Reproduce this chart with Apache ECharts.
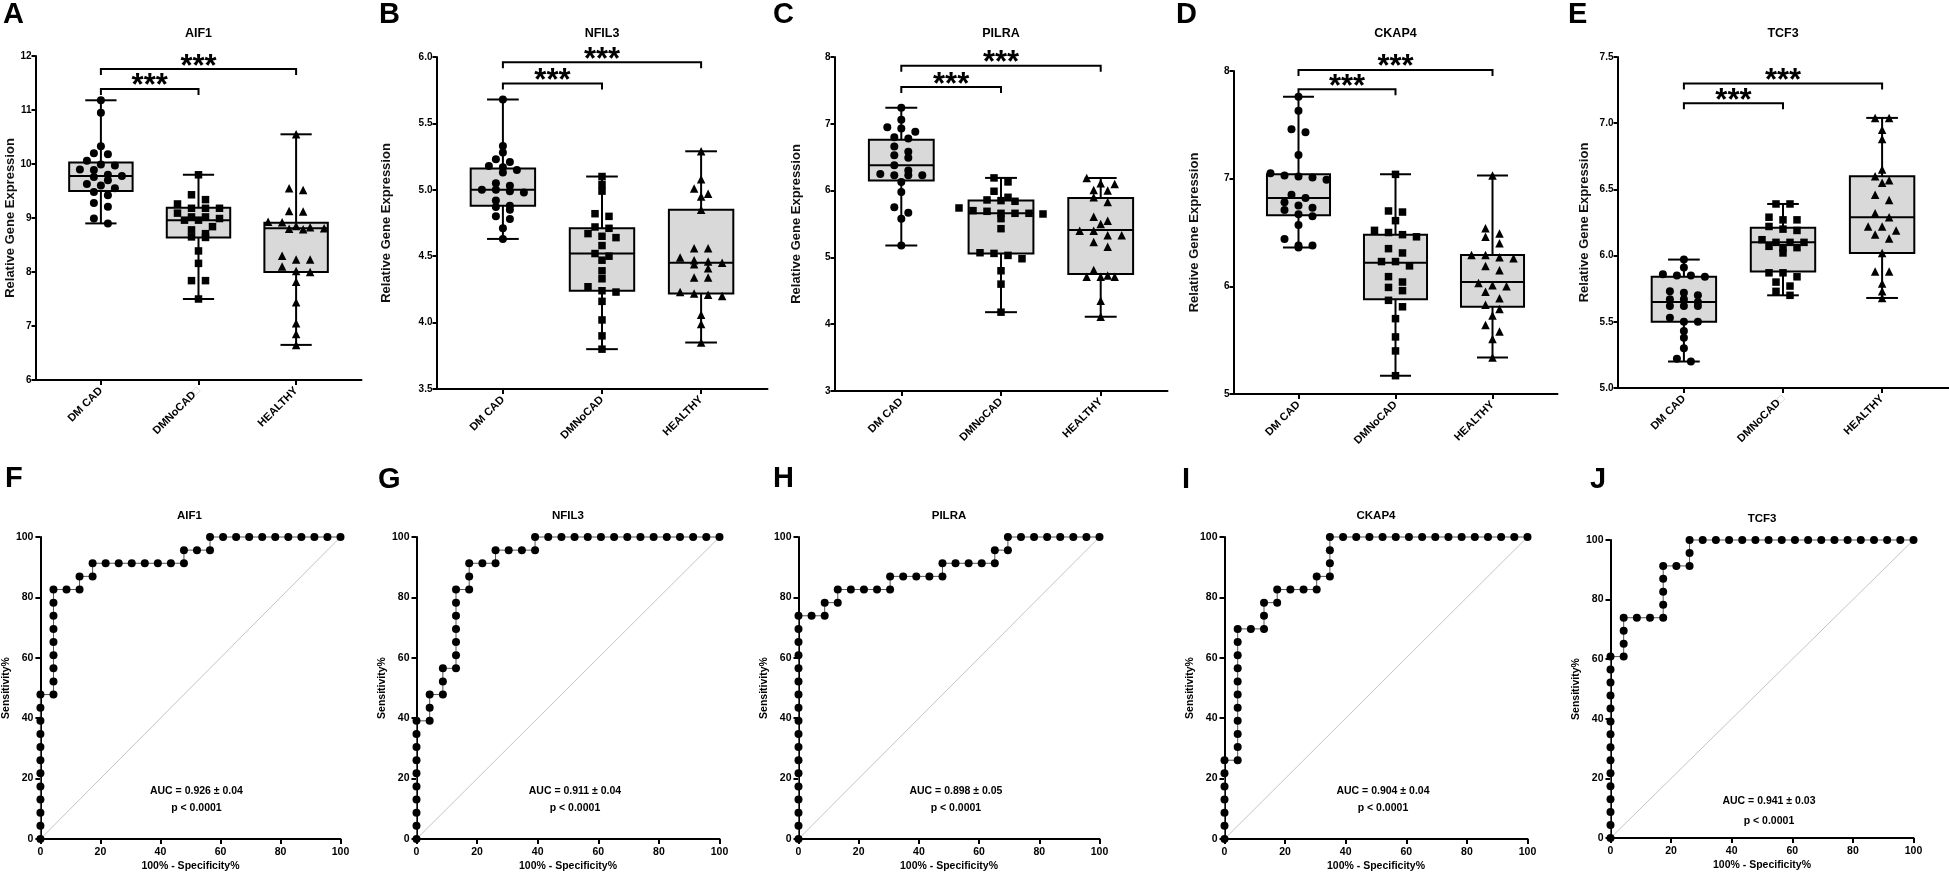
<!DOCTYPE html>
<html><head><meta charset="utf-8">
<script src="https://cdn.jsdelivr.net/npm/echarts@6.0.0/dist/echarts.min.js"></script>
<style>html,body{margin:0;padding:0;background:#fff;}#c{width:1949px;height:890px;}</style>
</head><body><div id="c"></div>
<script>
// ---------------- DATA ----------------
const AIF1_GROUPS = ['DM CAD', 'DMNoCAD\u25A1', 'HEALTHY'];
const NFIL3_GROUPS = ['DM CAD', 'DMNoCAD', 'HEALTHY'];
const PILRA_GROUPS = ['DM CAD', 'DMNoCAD', 'HEALTHY'];
const CKAP4_GROUPS = ['DM CAD', 'DMNoCAD', 'HEALTHY'];
const TCF3_GROUPS = ['DM CAD', 'DMNoCAD\u25A1', 'HEALTHY'];

const AIF1_DMCAD = [11.18,10.95,10.33,10.20,10.18,10.06,9.99,9.97,9.90,9.89,9.80,9.78,9.76,9.70,9.63,9.60,9.55,9.48,9.42,9.28,9.21,8.99,8.90];
const AIF1_DMNOCAD = [9.80,9.43,9.34,9.26,9.18,9.18,9.18,9.09,9.02,9.02,8.99,8.96,8.96,8.84,8.78,8.71,8.65,8.64,8.39,8.16,7.84,7.84,7.50];
const AIF1_HEALTHY = [10.55,9.55,9.52,9.13,9.12,8.93,8.92,8.85,8.83,8.81,8.80,8.79,8.30,8.23,8.23,8.10,8.02,8.00,7.82,7.44,7.05,6.85,6.65];
const AIF1_BOX = [[8.90,9.50,9.78,10.03,11.18],[7.50,8.64,8.96,9.19,9.80],[6.65,8.00,8.81,8.91,10.55]];
const AIF1_YTICKS = [6,7,8,9,10,11,12];
const AIF1_SIG = [[1,2,11.39,'***'],[1,3,11.76,'***']];

const NFIL3_DMCAD = [5.68,5.33,5.28,5.23,5.21,5.18,5.17,5.15,5.13,5.05,5.03,5.00,5.00,4.99,4.98,4.92,4.88,4.87,4.85,4.80,4.78,4.71,4.63];
const NFIL3_DMNOCAD = [5.10,5.04,4.99,4.82,4.80,4.72,4.71,4.67,4.65,4.64,4.58,4.52,4.50,4.47,4.39,4.33,4.27,4.24,4.23,4.16,4.02,3.90,3.80];
const NFIL3_HEALTHY = [5.29,5.08,5.01,4.97,4.95,4.85,4.56,4.56,4.49,4.47,4.46,4.45,4.44,4.41,4.34,4.34,4.23,4.22,4.21,4.20,4.06,3.99,3.85];
const NFIL3_BOX = [[4.63,4.88,5.00,5.16,5.68],[3.80,4.24,4.52,4.71,5.10],[3.85,4.22,4.45,4.85,5.29]];
const NFIL3_YTICKS = [3.5,4.0,4.5,5.0,5.5,6.0];
const NFIL3_SIG = [[1,2,5.80,'***'],[1,3,5.96,'***']];

const PILRA_DMCAD = [7.24,7.06,6.95,6.93,6.88,6.80,6.78,6.66,6.58,6.53,6.49,6.38,6.30,6.25,6.23,6.23,6.23,6.13,5.98,5.75,5.67,5.58,5.18];
const PILRA_DMNOCAD = [6.19,6.13,5.99,5.90,5.86,5.85,5.84,5.74,5.70,5.69,5.66,5.66,5.66,5.65,5.58,5.43,5.07,5.06,5.03,4.98,4.80,4.60,4.18];
const PILRA_HEALTHY = [6.19,6.11,6.10,6.01,6.00,5.90,5.83,5.61,5.55,5.50,5.40,5.40,5.33,5.33,5.23,5.16,4.81,4.73,4.71,4.71,4.71,4.35,4.11];
const PILRA_BOX = [[5.18,6.15,6.38,6.76,7.24],[4.18,5.06,5.66,5.85,6.19],[4.11,4.75,5.41,5.89,6.19]];
const PILRA_YTICKS = [3,4,5,6,7,8];
const PILRA_SIG = [[1,2,7.55,'***'],[1,3,7.87,'***']];

const CKAP4_DMCAD = [7.76,7.63,7.46,7.43,7.22,7.05,7.03,7.02,7.01,6.99,6.85,6.82,6.78,6.75,6.73,6.71,6.67,6.65,6.57,6.44,6.38,6.38,6.36];
const CKAP4_DMNOCAD = [7.04,6.70,6.69,6.61,6.52,6.50,6.48,6.46,6.35,6.31,6.23,6.23,6.19,6.09,6.04,5.99,5.96,5.87,5.81,5.70,5.53,5.40,5.17];
const CKAP4_HEALTHY = [7.03,6.54,6.49,6.46,6.40,6.29,6.29,6.27,6.26,6.19,6.15,6.03,6.01,6.00,5.95,5.89,5.83,5.79,5.73,5.64,5.58,5.51,5.34];
const CKAP4_BOX = [[6.36,6.66,6.82,7.04,7.76],[5.17,5.88,6.22,6.48,7.04],[5.34,5.81,6.04,6.29,7.03]];
const CKAP4_YTICKS = [5,6,7,8];
const CKAP4_SIG = [[1,2,7.83,'***'],[1,3,8.01,'***']];

const TCF3_DMCAD = [5.97,5.91,5.86,5.85,5.85,5.84,5.73,5.72,5.70,5.67,5.67,5.65,5.62,5.62,5.62,5.53,5.50,5.50,5.43,5.38,5.30,5.22,5.20];
const TCF3_DMNOCAD = [6.39,6.39,6.29,6.27,6.27,6.22,6.20,6.19,6.12,6.10,6.10,6.10,6.07,6.06,6.06,6.02,5.87,5.87,5.84,5.80,5.77,5.73,5.70];
const TCF3_HEALTHY = [7.04,7.04,6.95,6.88,6.65,6.60,6.57,6.55,6.46,6.42,6.32,6.29,6.22,6.22,6.19,6.16,6.13,6.02,5.88,5.88,5.79,5.73,5.68];
const TCF3_BOX = [[5.20,5.50,5.65,5.84,5.97],[5.70,5.88,6.10,6.21,6.39],[5.68,6.02,6.29,6.60,7.04]];
const TCF3_YTICKS = [5.0,5.5,6.0,6.5,7.0,7.5];
const TCF3_SIG = [[1,2,7.15,'***'],[1,3,7.30,'***']];

// ROC curves: [100% - Specificity%, Sensitivity%]
const ROC_AIF1 = [[0,0],[0,4.35],[0,8.70],[0,13.04],[0,17.39],[0,21.74],[0,26.09],[0,30.43],[0,34.78],[0,39.13],[0,43.48],[0,47.83],[4.35,47.83],[4.35,52.17],[4.35,56.52],[4.35,60.87],[4.35,65.22],[4.35,69.57],[4.35,73.91],[4.35,78.26],[4.35,82.61],[8.70,82.61],[13.04,82.61],[13.04,86.96],[17.39,86.96],[17.39,91.30],[21.74,91.30],[26.09,91.30],[30.43,91.30],[34.78,91.30],[39.13,91.30],[43.48,91.30],[47.83,91.30],[47.83,95.65],[52.17,95.65],[56.52,95.65],[56.52,100],[60.87,100],[65.22,100],[69.57,100],[73.91,100],[78.26,100],[82.61,100],[86.96,100],[91.30,100],[95.65,100],[100,100]];
const ROC_NFIL3 = [[0,0],[0,4.35],[0,8.70],[0,13.04],[0,17.39],[0,21.74],[0,26.09],[0,30.43],[0,34.78],[0,39.13],[4.35,39.13],[4.35,43.48],[4.35,47.83],[8.70,47.83],[8.70,52.17],[8.70,56.52],[13.04,56.52],[13.04,60.87],[13.04,65.22],[13.04,69.57],[13.04,73.91],[13.04,78.26],[13.04,82.61],[17.39,82.61],[17.39,86.96],[17.39,91.30],[21.74,91.30],[26.09,91.30],[26.09,95.65],[30.43,95.65],[34.78,95.65],[39.13,95.65],[39.13,100],[43.48,100],[47.83,100],[52.17,100],[56.52,100],[60.87,100],[65.22,100],[69.57,100],[73.91,100],[78.26,100],[82.61,100],[86.96,100],[91.30,100],[95.65,100],[100,100]];
const ROC_PILRA = [[0,0],[0,4.35],[0,8.70],[0,13.04],[0,17.39],[0,21.74],[0,26.09],[0,30.43],[0,34.78],[0,39.13],[0,43.48],[0,47.83],[0,52.17],[0,56.52],[0,60.87],[0,65.22],[0,69.57],[0,73.91],[4.35,73.91],[8.70,73.91],[8.70,78.26],[13.04,78.26],[13.04,82.61],[17.39,82.61],[21.74,82.61],[26.09,82.61],[30.43,82.61],[30.43,86.96],[34.78,86.96],[39.13,86.96],[43.48,86.96],[47.83,86.96],[47.83,91.30],[52.17,91.30],[56.52,91.30],[60.87,91.30],[65.22,91.30],[65.22,95.65],[69.57,95.65],[69.57,100],[73.91,100],[78.26,100],[82.61,100],[86.96,100],[91.30,100],[95.65,100],[100,100]];
const ROC_CKAP4 = [[0,0],[0,4.35],[0,8.70],[0,13.04],[0,17.39],[0,21.74],[0,26.09],[4.35,26.09],[4.35,30.43],[4.35,34.78],[4.35,39.13],[4.35,43.48],[4.35,47.83],[4.35,52.17],[4.35,56.52],[4.35,60.87],[4.35,65.22],[4.35,69.57],[8.70,69.57],[13.04,69.57],[13.04,73.91],[13.04,78.26],[17.39,78.26],[17.39,82.61],[21.74,82.61],[26.09,82.61],[30.43,82.61],[30.43,86.96],[34.78,86.96],[34.78,91.30],[34.78,95.65],[34.78,100],[39.13,100],[43.48,100],[47.83,100],[52.17,100],[56.52,100],[60.87,100],[65.22,100],[69.57,100],[73.91,100],[78.26,100],[82.61,100],[86.96,100],[91.30,100],[95.65,100],[100,100]];
const ROC_TCF3 = [[0,0],[0,4.35],[0,8.70],[0,13.04],[0,17.39],[0,21.74],[0,26.09],[0,30.43],[0,34.78],[0,39.13],[0,43.48],[0,47.83],[0,52.17],[0,56.52],[0,60.87],[4.35,60.87],[4.35,65.22],[4.35,69.57],[4.35,73.91],[8.70,73.91],[13.04,73.91],[17.39,73.91],[17.39,78.26],[17.39,82.61],[17.39,86.96],[17.39,91.30],[21.74,91.30],[26.09,91.30],[26.09,95.65],[26.09,100],[30.43,100],[34.78,100],[39.13,100],[43.48,100],[47.83,100],[52.17,100],[56.52,100],[60.87,100],[65.22,100],[69.57,100],[73.91,100],[78.26,100],[82.61,100],[86.96,100],[91.30,100],[95.65,100],[100,100]];
const ROC_TICKS = [0,20,40,60,80,100];
const ROC_DIAGONAL = [[0,0],[100,100]];
const AUC_TEXT = ['AUC = 0.926 \u00B1 0.04','AUC = 0.911 \u00B1 0.04','AUC = 0.898 \u00B1 0.05','AUC = 0.904 \u00B1 0.04','AUC = 0.941 \u00B1 0.03'];
const P_TEXT = ['p < 0.0001','p < 0.0001','p < 0.0001','p < 0.0001','p < 0.0001'];
const GENES = ['AIF1','NFIL3','PILRA','CKAP4','TCF3'];

// ---------------- LAYOUT ----------------
const FONT = '"Liberation Sans", Arial, Helvetica, sans-serif';
const XMIN = 0.33, XMAX = 3.67;
const BOX_W = 0.65, CAP_W = 0.32;
const SYMBOLS = ['circle','rect','triangle'];
const SYM_SIZE = [8, 7.5, 8.5];

const topPanels = [
  {gene:'AIF1', groups:AIF1_GROUPS, pts:[AIF1_DMCAD,AIF1_DMNOCAD,AIF1_HEALTHY], box:AIF1_BOX, ticks:AIF1_YTICKS, sig:AIF1_SIG, dec:0,
   left:35.5, top:56, width:326, height:324, nameGap:18, letter:'A', lx:3, ly:15},
  {gene:'NFIL3', groups:NFIL3_GROUPS, pts:[NFIL3_DMCAD,NFIL3_DMNOCAD,NFIL3_HEALTHY], box:NFIL3_BOX, ticks:NFIL3_YTICKS, sig:NFIL3_SIG, dec:1,
   left:436.5, top:57, width:331, height:332, nameGap:44, letter:'B', lx:379, ly:15},
  {gene:'PILRA', groups:PILRA_GROUPS, pts:[PILRA_DMCAD,PILRA_DMNOCAD,PILRA_HEALTHY], box:PILRA_BOX, ticks:PILRA_YTICKS, sig:PILRA_SIG, dec:0,
   left:834.5, top:57, width:333, height:334, nameGap:32, letter:'C', lx:773, ly:15},
  {gene:'CKAP4', groups:CKAP4_GROUPS, pts:[CKAP4_DMCAD,CKAP4_DMNOCAD,CKAP4_HEALTHY], box:CKAP4_BOX, ticks:CKAP4_YTICKS, sig:CKAP4_SIG, dec:0,
   left:1233.5, top:71, width:324, height:323, nameGap:33, letter:'D', lx:1176, ly:15},
  {gene:'TCF3', groups:TCF3_GROUPS, pts:[TCF3_DMCAD,TCF3_DMNOCAD,TCF3_HEALTHY], box:TCF3_BOX, ticks:TCF3_YTICKS, sig:TCF3_SIG, dec:1,
   left:1617.5, top:57, width:331, height:331, nameGap:27, letter:'E', lx:1568, ly:15}
];
const rocPanels = [
  {roc:ROC_AIF1, left:38.5, top:537, height:302, width:302, letter:'F', lx:5, ly:479, aucY:791, pY:808},
  {roc:ROC_NFIL3, left:416.5, top:537, height:302, width:303, letter:'G', lx:378, ly:480, aucY:791, pY:808},
  {roc:ROC_PILRA, left:798.5, top:537, height:302, width:301, letter:'H', lx:773, ly:479, aucY:791, pY:808},
  {roc:ROC_CKAP4, left:1224.5, top:537, height:302, width:303, letter:'I', lx:1182, ly:480, aucY:791, pY:808},
  {roc:ROC_TCF3, left:1610.5, top:540, height:298, width:303, letter:'J', lx:1590, ly:480, aucY:801, pY:821}
];

// beeswarm-like horizontal spreading (GraphPad style rows)
function swarm(vals, gi, pxPerVal, pxPerX) {
  const sorted = vals.slice().sort((a,b)=>b-a);
  const rows = []; let cur = null;
  for (const v of sorted) {
    if (cur && (cur.start - v) * pxPerVal < 6.5) cur.items.push(v);
    else { cur = {start:v, items:[v]}; rows.push(cur); }
  }
  const out = [];
  rows.forEach(r => {
    const k = r.items.length;
    r.items.forEach((v,i) => out.push([gi + (i - (k-1)/2) * 14 / pxPerX, v]));
  });
  return out;
}

const grid = [], xAxis = [], yAxis = [], series = [], graphic = [];
const axisLineStyle = {color:'#000', width:2};
const txt = (text, x, y, size, align) => ({type:'text', x:x, y:y, silent:true,
  style:{text:text, font:'bold '+size+'px '+FONT, fill:'#000', textAlign:align||'center', align:align||'center', textVerticalAlign:'middle', verticalAlign:'middle'}});

topPanels.forEach((p, i) => {
  const ymin = p.ticks[0], ymax = p.ticks[p.ticks.length-1], step = p.ticks[1]-p.ticks[0];
  grid.push({left:p.left, top:p.top, width:p.width, height:p.height});
  const groups = p.groups;
  xAxis.push({gridIndex:i, type:'value', min:XMIN, max:XMAX,
    axisLine:{show:true, onZero:false, lineStyle:axisLineStyle},
    splitLine:{show:false},
    axisTick:{show:true, customValues:[1,2,3], length:5, lineStyle:axisLineStyle},
    axisLabel:{customValues:[1,2,3], rotate:45, margin:9, fontSize:11, fontWeight:'bold', color:'#000', fontFamily:FONT,
      formatter: v => { const s = groups[Math.round(v)-1] || ''; return s.indexOf('\u25A1')>=0 ? s.replace('\u25A1','') + '{g|\u25A1}' : s; },
      rich:{g:{color:'#c0c0c0', fontSize:10, fontFamily:FONT}}}
  });
  yAxis.push({gridIndex:i, type:'value', min:ymin, max:ymax, interval:step,
    name:'Relative Gene Expression', nameLocation:'middle', nameGap:p.nameGap,
    nameTextStyle:{fontSize:13, fontWeight:'bold', color:'#111', fontFamily:FONT},
    axisLine:{show:true, onZero:false, lineStyle:axisLineStyle},
    axisTick:{show:true, length:4, lineStyle:axisLineStyle},
    axisLabel:{margin:4, fontSize:10, fontWeight:'bold', color:'#000', fontFamily:FONT, formatter: v => v.toFixed(p.dec)},
    splitLine:{show:false}
  });
  const pxPerVal = p.height / (ymax - ymin), pxPerX = p.width / (XMAX - XMIN);
  // boxes
  series.push({type:'custom', xAxisIndex:i, yAxisIndex:i, z:2, silent:true,
    data: p.box.map((b, gi) => [gi+1].concat(b)),
    encode:{x:0, y:[1,2,3,4,5]},
    renderItem: (params, api) => {
      const x = api.value(0), mn = api.value(1), q1 = api.value(2), md = api.value(3), q3 = api.value(4), mx = api.value(5);
      const tl = api.coord([x - BOX_W/2, q3]), br = api.coord([x + BOX_W/2, q1]);
      const cMin = api.coord([x, mn]), cMax = api.coord([x, mx]), cMed = api.coord([x, md]);
      const cl = api.coord([x - CAP_W/2, mn])[0], cr = api.coord([x + CAP_W/2, mn])[0];
      const st = {stroke:'#000', lineWidth:2, fill:null};
      return {type:'group', children:[
        {type:'line', shape:{x1:cMax[0], y1:cMax[1], x2:cMin[0], y2:cMin[1]}, style:st},
        {type:'rect', shape:{x:tl[0], y:tl[1], width:br[0]-tl[0], height:br[1]-tl[1]}, style:{fill:'#d9d9d9', stroke:'#000', lineWidth:2}},
        {type:'line', shape:{x1:tl[0], y1:cMed[1], x2:br[0], y2:cMed[1]}, style:st},
        {type:'line', shape:{x1:cl, y1:cMax[1], x2:cr, y2:cMax[1]}, style:st},
        {type:'line', shape:{x1:cl, y1:cMin[1], x2:cr, y2:cMin[1]}, style:st}
      ]};
    }
  });
  // significance brackets
  const sig = p.sig;
  series.push({type:'custom', xAxisIndex:i, yAxisIndex:i, z:4, silent:true,
    data: sig.map(s => [s[0], s[1], s[2]]),
    encode:{x:[0,1], y:2},
    renderItem: (params, api) => {
      const a = api.coord([api.value(0), api.value(2)]), b = api.coord([api.value(1), api.value(2)]);
      return {type:'group', children:[
        {type:'polyline', shape:{points:[[a[0],a[1]+6],[a[0],a[1]],[b[0],b[1]],[b[0],b[1]+6]]}, style:{stroke:'#000', lineWidth:2, fill:null}},
        {type:'text', x:(a[0]+b[0])/2, y:a[1]-2, style:{text:sig[params.dataIndex][3], font:'bold 31px '+FONT, fill:'#000',
          textAlign:'center', align:'center', textVerticalAlign:'middle', verticalAlign:'middle'}}
      ]};
    }
  });
  // points
  p.pts.forEach((vals, gi) => {
    series.push({type:'scatter', xAxisIndex:i, yAxisIndex:i, z:5, silent:true,
      symbol:SYMBOLS[gi], symbolSize:SYM_SIZE[gi], itemStyle:{color:'#000', opacity:1},
      data: swarm(vals, gi+1, pxPerVal, pxPerX)});
  });
  // title and letter
  graphic.push(txt(p.gene, p.left + (2 - XMIN) * pxPerX, 34, 12.5));
  graphic.push(txt(p.letter, p.lx, p.ly, 29, 'left'));
});

rocPanels.forEach((p, j) => {
  const i = topPanels.length + j;
  grid.push({left:p.left, top:p.top, width:p.width, height:p.height});
  const common = {type:'value', min:ROC_TICKS[0], max:ROC_TICKS[ROC_TICKS.length-1], interval:ROC_TICKS[1]-ROC_TICKS[0],
    axisLine:{show:true, onZero:false, lineStyle:axisLineStyle},
    axisTick:{show:true, length:5, lineStyle:axisLineStyle},
    splitLine:{show:false},
    nameLocation:'middle',
    nameTextStyle:{fontSize:10.5, fontWeight:'bold', color:'#000', fontFamily:FONT}};
  xAxis.push(Object.assign({}, common, {gridIndex:i, name:'100% - Specificity%', nameGap:22,
    axisLabel:{margin:8, fontSize:10.5, fontWeight:'bold', color:'#000', fontFamily:FONT}}));
  yAxis.push(Object.assign({}, common, {gridIndex:i, name:'Sensitivity%', nameGap:25,
    axisLabel:{margin:7, fontSize:10.5, fontWeight:'bold', color:'#000', fontFamily:FONT}}));
  series.push({type:'line', xAxisIndex:i, yAxisIndex:i, data:ROC_DIAGONAL, symbol:'none', silent:true, z:1,
    lineStyle:{color:'#c4c4c4', width:1}});
  series.push({type:'line', xAxisIndex:i, yAxisIndex:i, data:p.roc, symbol:'circle', symbolSize:8, showAllSymbol:true,
    silent:true, clip:false, z:3, itemStyle:{color:'#000'}, lineStyle:{color:'#555', width:1}});
  graphic.push(txt(GENES[j], p.left + p.width/2, p.top - 21, 11.5));
  graphic.push(txt(AUC_TEXT[j], p.left + p.width*0.523, p.aucY, 10.5));
  graphic.push(txt(P_TEXT[j], p.left + p.width*0.523, p.pY, 10.5));
  graphic.push(txt(p.letter, p.lx, p.ly, 29, 'left'));
});

const chart = echarts.init(document.getElementById('c'), null, {renderer:'canvas', width:1949, height:890});
chart.setOption({animation:false, backgroundColor:'#fff', textStyle:{fontFamily:FONT},
  grid:grid, xAxis:xAxis, yAxis:yAxis, series:series, graphic:graphic});
</script></body></html>
